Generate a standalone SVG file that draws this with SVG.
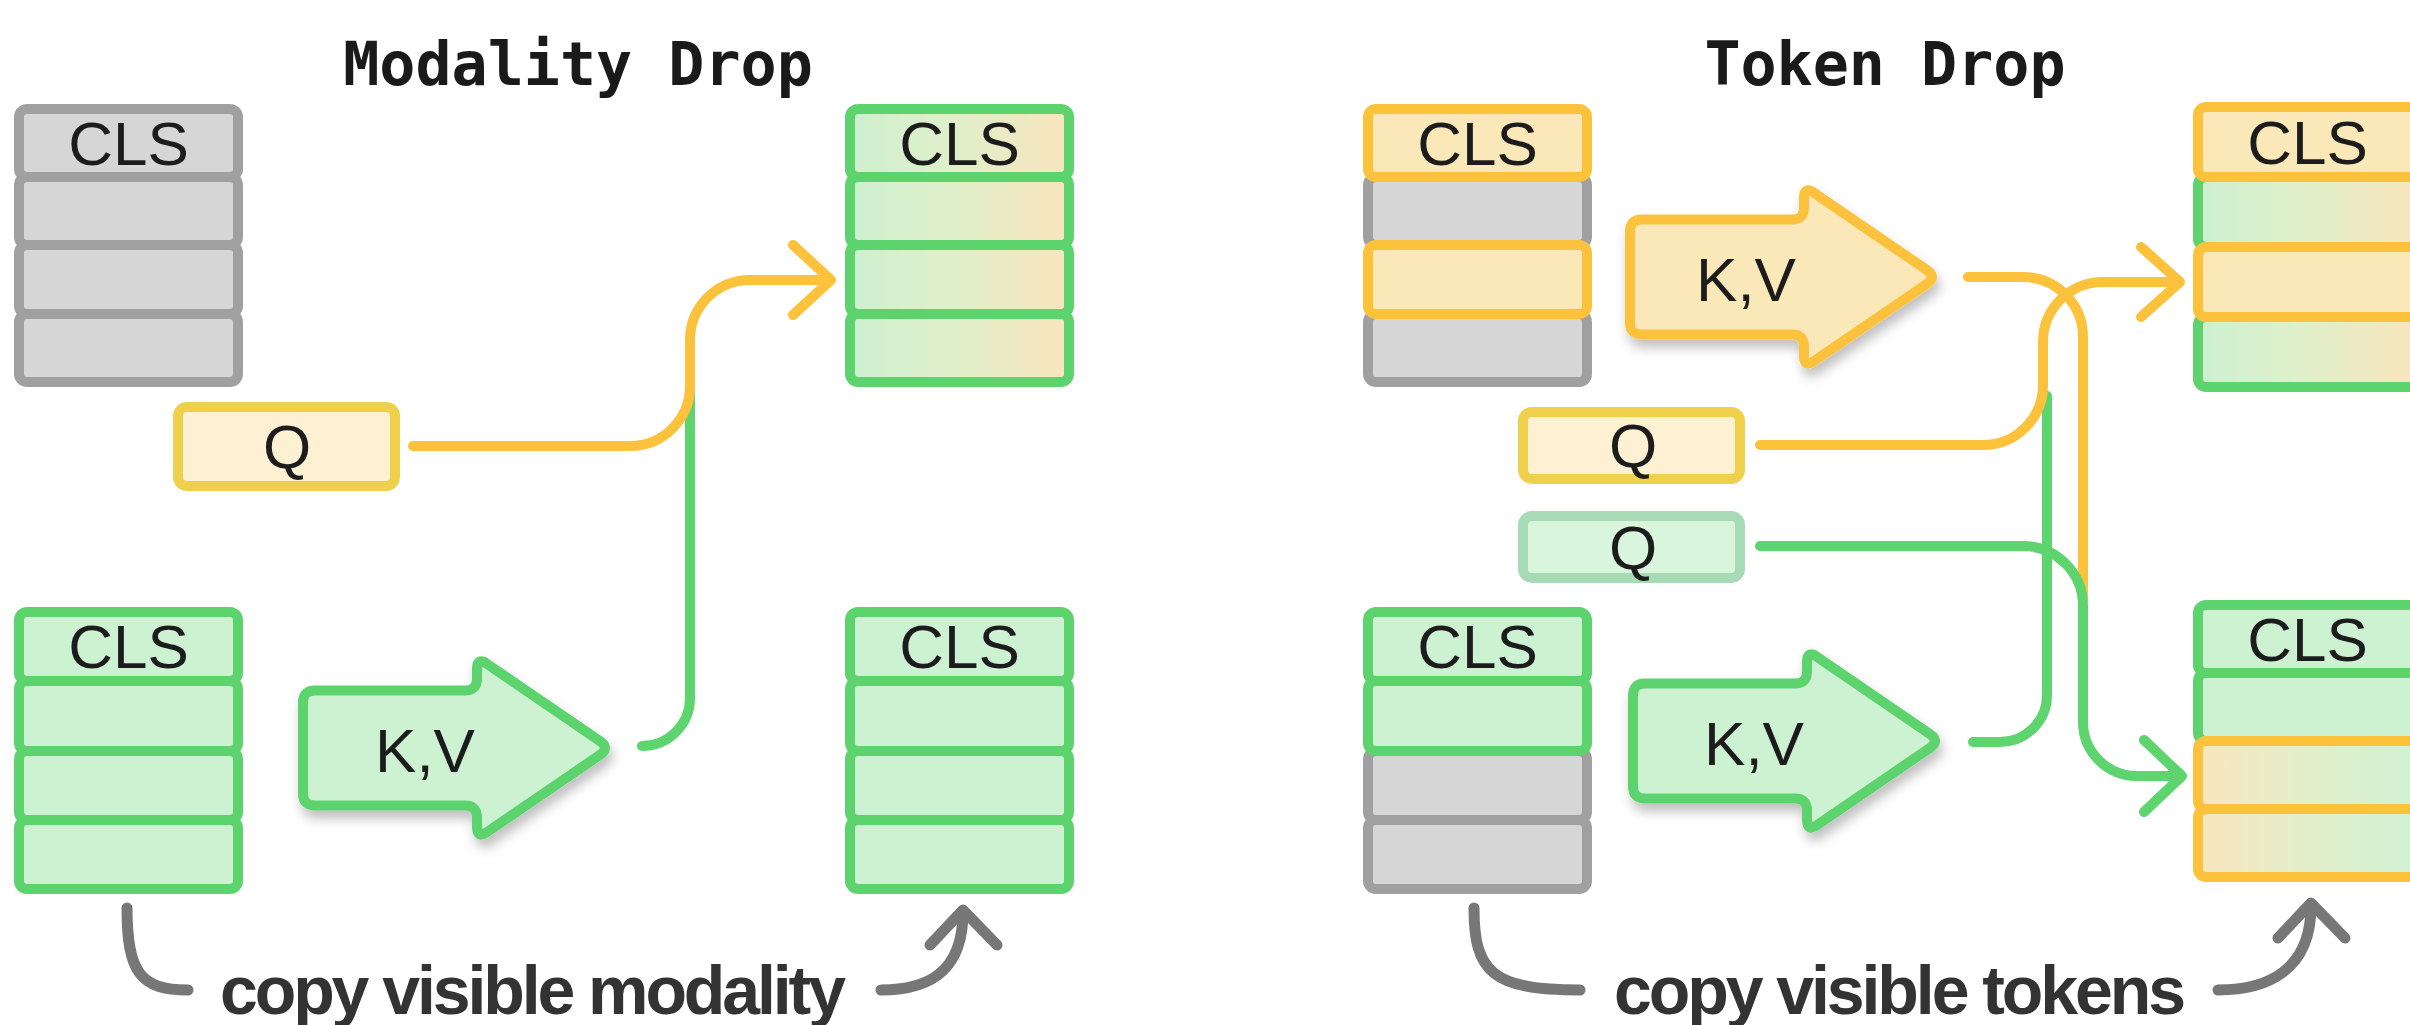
<svg xmlns="http://www.w3.org/2000/svg" xmlns:xlink="http://www.w3.org/1999/xlink" width="2410" height="1025" viewBox="0 0 2410 1025">
<defs>
<style>
.cell{stroke-width:10}
.gray{fill:#d6d6d6;stroke:#a0a0a0}
.green{fill:#cdf2d2;stroke:#5dd36e}
.yellow{fill:#fbe8b9;stroke:#fcc23c}
.gy{fill:url(#gy);stroke:#5dd36e}
.yg{fill:url(#yg);stroke:#fcc23c}
.qy{fill:#fdf0d3;stroke:#efd04b;stroke-width:10}
.qg{fill:#d9f5de;stroke:#a6dbb5;stroke-width:10}
.arr{stroke-width:10;stroke-linejoin:round}
.lbl{font-family:"Liberation Sans",Arial,sans-serif;font-size:62px;fill:#1c1c1c;text-anchor:middle}
.title{font-family:"DejaVu Sans Mono","Liberation Mono",monospace;font-weight:bold;font-size:60px;fill:#1a1a1a;text-anchor:middle}
.cap{font-family:"Liberation Sans",Arial,sans-serif;font-weight:bold;font-size:68px;fill:#333333}
.ln{fill:none;stroke-width:10;stroke-linecap:round;stroke-linejoin:round}
.ly{stroke:#fcc23c}
.lg{stroke:#5dd46e}
.lgr{stroke:#777777;stroke-width:11}
</style>
<linearGradient id="gy" x1="0" y1="0" x2="1" y2="0">
<stop offset="0" stop-color="#cdf0d0"/>
<stop offset="0.45" stop-color="#dff0ca"/>
<stop offset="1" stop-color="#f8e5bd"/>
</linearGradient>
<linearGradient id="yg" x1="0" y1="0" x2="1" y2="0">
<stop offset="0" stop-color="#f8e6bf"/>
<stop offset="0.5" stop-color="#e3efca"/>
<stop offset="1" stop-color="#d0f1d3"/>
</linearGradient>
<filter id="sh" x="-20%" y="-30%" width="150%" height="170%">
<feDropShadow dx="3" dy="8" stdDeviation="6" flood-color="#000" flood-opacity="0.25"/>
</filter>
<path id="kv" d="M0,-45.5 Q0,-57.5 12,-57.5 L162,-57.5 Q174,-57.5 174,-69.5 L174,-79 Q174,-91 184,-84.2 L297,-6.8 Q307,0 297,6.8 L184,84.2 Q174,91 174,79 L174,69.5 Q174,57.5 162,57.5 L12,57.5 Q0,57.5 0,45.5 Z"/>
</defs>
<rect width="2410" height="1025" fill="#ffffff"/>

<g id="titles">
<text class="title" x="578" y="85">Modality Drop</text>
<text class="title" x="1885" y="85">Token Drop</text>
</g>

<!-- Modality Drop -->
<g id="md-input-top">
<rect class="cell gray" x="19" y="109" width="219" height="68" rx="8"/>
<rect class="cell gray" x="19" y="177" width="219" height="68" rx="8"/>
<rect class="cell gray" x="19" y="245" width="219" height="69" rx="8"/>
<rect class="cell gray" x="19" y="314" width="219" height="68" rx="8"/>
<text class="lbl" x="128.5" y="165">CLS</text>
</g>
<g id="md-q">
<rect class="qy" x="178" y="407" width="217" height="79" rx="9"/>
<text class="lbl" x="287" y="468">Q</text>
</g>
<g id="md-input-bottom">
<rect class="cell green" x="19" y="612" width="219" height="69" rx="8"/>
<rect class="cell green" x="19" y="681" width="219" height="70" rx="8"/>
<rect class="cell green" x="19" y="751" width="219" height="69" rx="8"/>
<rect class="cell green" x="19" y="820" width="219" height="69" rx="8"/>
<text class="lbl" x="128.5" y="668">CLS</text>
</g>
<g id="md-kv">
<use href="#kv" xlink:href="#kv" class="green arr" transform="translate(303,748)" filter="url(#sh)"/>
<text class="lbl" x="425" y="772">K,V</text>
</g>
<g id="md-output-top">
<rect class="cell gy" x="850" y="109" width="219" height="68" rx="8"/>
<rect class="cell gy" x="850" y="177" width="219" height="68" rx="8"/>
<rect class="cell gy" x="850" y="245" width="219" height="69" rx="8"/>
<rect class="cell gy" x="850" y="314" width="219" height="68" rx="8"/>
<text class="lbl" x="959.5" y="165">CLS</text>
</g>
<g id="md-output-bottom">
<rect class="cell green" x="850" y="612" width="219" height="69" rx="8"/>
<rect class="cell green" x="850" y="681" width="219" height="70" rx="8"/>
<rect class="cell green" x="850" y="751" width="219" height="69" rx="8"/>
<rect class="cell green" x="850" y="820" width="219" height="69" rx="8"/>
<text class="lbl" x="959.5" y="668">CLS</text>
</g>
<g id="md-caption">
<text class="cap" x="220" y="1014" textLength="626" lengthAdjust="spacing">copy visible modality</text>
</g>

<!-- Token Drop -->
<g id="td-input-top">
<rect class="cell gray" x="1368" y="177" width="219" height="68" rx="8"/>
<rect class="cell gray" x="1368" y="314" width="219" height="68" rx="8"/>
<rect class="cell yellow" x="1368" y="109" width="219" height="68" rx="8"/>
<rect class="cell yellow" x="1368" y="245" width="219" height="69" rx="8"/>
<text class="lbl" x="1477.5" y="165">CLS</text>
</g>
<g id="td-kv-top">
<use href="#kv" xlink:href="#kv" class="yellow arr" transform="translate(1630,277)" filter="url(#sh)"/>
<text class="lbl" x="1746" y="301">K,V</text>
</g>
<g id="td-q-yellow">
<rect class="qy" x="1523" y="412" width="217" height="67" rx="9"/>
<text class="lbl" x="1633" y="467">Q</text>
</g>
<g id="td-q-green">
<rect class="qg" x="1523" y="516" width="217" height="62" rx="9"/>
<text class="lbl" x="1633" y="569">Q</text>
</g>
<g id="td-input-bottom">
<rect class="cell gray" x="1368" y="751" width="219" height="69" rx="8"/>
<rect class="cell gray" x="1368" y="820" width="219" height="69" rx="8"/>
<rect class="cell green" x="1368" y="612" width="219" height="69" rx="8"/>
<rect class="cell green" x="1368" y="681" width="219" height="70" rx="8"/>
<text class="lbl" x="1477.5" y="668">CLS</text>
</g>
<g id="td-kv-bottom">
<use href="#kv" xlink:href="#kv" class="green arr" transform="translate(1633,741)" filter="url(#sh)"/>
<text class="lbl" x="1754" y="765">K,V</text>
</g>
<g id="td-output-top">
<rect class="cell gy" x="2198" y="177" width="219" height="70" rx="8"/>
<rect class="cell gy" x="2198" y="317" width="219" height="70" rx="8"/>
<rect class="cell yellow" x="2198" y="107" width="219" height="70" rx="8"/>
<rect class="cell yellow" x="2198" y="247" width="219" height="70" rx="8"/>
<text class="lbl" x="2307.5" y="164">CLS</text>
</g>
<g id="td-output-bottom">
<rect class="cell green" x="2198" y="605" width="219" height="68" rx="8"/>
<rect class="cell green" x="2198" y="673" width="219" height="68" rx="8"/>
<rect class="cell yg" x="2198" y="741" width="219" height="68" rx="8"/>
<rect class="cell yg" x="2198" y="809" width="219" height="68" rx="8"/>
<text class="lbl" x="2307.5" y="661">CLS</text>
</g>
<g id="td-caption">
<text class="cap" x="1614" y="1014" textLength="572" lengthAdjust="spacing">copy visible tokens</text>
</g>

<g id="connectors">
<!-- Modality Drop -->
<path class="ln lg" d="M642,746 A48,48 0 0 0 690,698 V392"/>
<path class="ln ly" d="M413,446 H630 A60,60 0 0 0 690,386 V340 A60,60 0 0 1 750,280 H830"/>
<path class="ln ly" d="M793,245 L831,280 L793,315"/>
<path class="ln lgr" d="M127,908 C127,972 140,990 188,990"/>
<path class="ln lgr" d="M881,990 C925,990 963,975 963,912"/>
<path class="ln lgr" d="M930,945 L963,910 L997,945"/>
<!-- Token Drop -->
<path class="ln lg" d="M1973,742 H2000 A47,47 0 0 0 2047,695 V396"/>
<path class="ln ly" d="M1968,277 H2023 A60,60 0 0 1 2083,337 V600"/>
<path class="ln ly" d="M1760,445 H1983 A60,60 0 0 0 2043,385 V342 A60,60 0 0 1 2103,282 H2179"/>
<path class="ln ly" d="M2141,247 L2180,282 L2141,317"/>
<path class="ln lg" d="M1760,546 H2023 A60,60 0 0 1 2083,606 V722 A54,54 0 0 0 2137,776 H2181"/>
<path class="ln lg" d="M2144,740 L2182,776 L2144,812"/>
<path class="ln lgr" d="M1474,908 C1474,972 1492,990 1580,990"/>
<path class="ln lgr" d="M2218,990 C2268,990 2311,970 2311,906"/>
<path class="ln lgr" d="M2278,938 L2311,903 L2345,938"/>
</g>
</svg>
